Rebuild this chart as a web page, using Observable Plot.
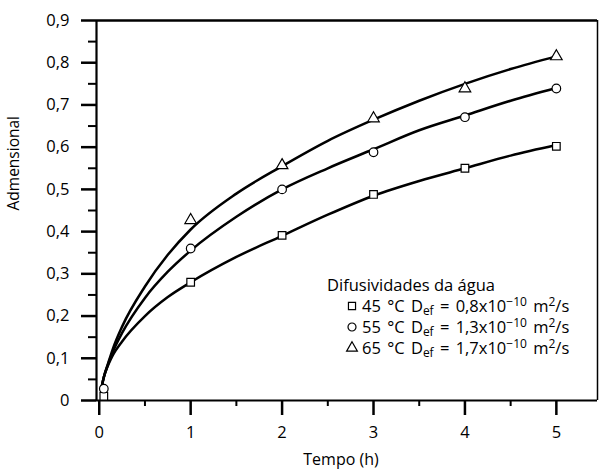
<!DOCTYPE html>
<html>
<head>
<meta charset="utf-8">
<script src="https://cdn.jsdelivr.net/npm/d3@7"></script>
<script src="https://cdn.jsdelivr.net/npm/@observablehq/plot@0.6"></script>
<style>
  html, body { margin: 0; padding: 0; background: #fff; }
  #chart svg { display: block; }
</style>
</head>
<body>
<div id="chart"></div>
<script>
// ---- data ----
const pointTimes = [0.05, 1, 2, 3, 4, 5];
const p45 = [0.01, 0.28, 0.391, 0.488, 0.55, 0.602];
const p55 = [0.028, 0.36, 0.5, 0.588, 0.671, 0.739];
const p65 = [null, 0.427, 0.557, 0.668, 0.739, 0.815];

const curveTimes = [0.02, 0.05, 0.1, 0.15, 0.25, 0.5, 0.75, 1, 1.5, 2, 2.5, 3, 3.5, 4, 4.5, 5];
const c45 = [0.025, 0.055, 0.085, 0.108, 0.14, 0.2, 0.245, 0.28, 0.34, 0.39, 0.44, 0.485, 0.52, 0.55, 0.58, 0.605];
const c55 = [0.025, 0.055, 0.088, 0.116, 0.16, 0.243, 0.305, 0.355, 0.435, 0.5, 0.55, 0.595, 0.64, 0.675, 0.71, 0.74];
const c65 = [0.025, 0.055, 0.09, 0.123, 0.175, 0.27, 0.345, 0.405, 0.49, 0.555, 0.615, 0.665, 0.71, 0.75, 0.785, 0.815];

const seriesNames = ["45", "55", "65"];
const seriesSymbols = ["square", "circle", "triangle"];
const legendTitle = "Difusividades da água";
const legendTemps = ["45 °C D", "55 °C D", "65 °C D"];
const legendCoefs = ["0,8", "1,3", "1,7"];

const xMajor = [0, 1, 2, 3, 4, 5];
const xMinor = [0.5, 1.5, 2.5, 3.5, 4.5];
const yMajor = [0, 0.1, 0.2, 0.3, 0.4, 0.5, 0.6, 0.7, 0.8, 0.9];
const yMinor = [0.05, 0.15, 0.25, 0.35, 0.45, 0.55, 0.65, 0.75, 0.85];

const xLabel = "Tempo (h)";
const yLabel = "Admensional";

// ---- build tables ----
const curves = [];
[c45, c55, c65].forEach((arr, s) => arr.forEach((v, i) => curves.push({t: curveTimes[i], v, s: seriesNames[s]})));
const points = [];
[p45, p55, p65].forEach((arr, s) => arr.forEach((v, i) => { if (v != null) points.push({t: pointTimes[i], v, s: seriesNames[s], sym: seriesSymbols[s]}); }));

const fmtY = d => d === 0 ? "0" : d.toFixed(1).replace(".", ",");
const xDomain = [-0.03, 5.45];
const FONT = "'Open Sans', sans-serif";

const plot = Plot.plot({
  width: 601,
  height: 470,
  marginTop: 20,
  marginBottom: 70,
  marginLeft: 96,
  marginRight: 4,
  style: {fontFamily: FONT, fontSize: "16.5px", color: "#000", background: "#fff"},
  x: {domain: xDomain},
  y: {domain: [0, 0.9]},
  symbol: {domain: seriesSymbols, range: seriesSymbols},
  marks: [
    Plot.axisX(xMajor, {tickSize: 15, tickPadding: 11, strokeWidth: 2.5, tickFormat: d => String(d), label: null, fontSize: 16.5}),
    Plot.axisX(xMinor, {tickSize: 6, strokeWidth: 2, tickFormat: () => "", label: null}),
    Plot.axisY(yMajor, {tickSize: 15, tickPadding: 12, strokeWidth: 2.5, tickFormat: fmtY, label: null, fontSize: 16.5}),
    Plot.axisY(yMinor, {tickSize: 8, strokeWidth: 2, tickFormat: () => "", label: null}),
    Plot.ruleY([0], {strokeWidth: 2.2}),
    Plot.ruleY([0.9], {strokeWidth: 2.5}),
    Plot.ruleX([xDomain[0]], {strokeWidth: 2.2}),
    Plot.ruleX([xDomain[1]], {strokeWidth: 1.5}),
    Plot.line(curves, {x: "t", y: "v", z: "s", stroke: "#000", strokeWidth: 2.5, curve: "monotone-x"}),
    Plot.dot(points, {x: "t", y: "v", symbol: "sym", r: 4.3, stroke: "#000", strokeWidth: 1.2, fill: "#fff"}),
    Plot.text([xLabel], {frameAnchor: "bottom", dx: -6, dy: 64, fontSize: 16, fill: "#000"}),
    Plot.text([yLabel], {frameAnchor: "left", dx: -82, rotate: -90, fontSize: 15.5, fill: "#000"})
  ]
});

document.getElementById("chart").appendChild(plot);

// ---- legend (text with sub/superscripts) ----
const svg = d3.select(plot);
const lg = svg.append("g")
  .attr("font-family", FONT).attr("font-size", 16.5).attr("fill", "#000").attr("text-anchor", "start");
lg.append("text").attr("x", 327).attr("y", 291).text(legendTitle);
const rowY = [312, 333, 354];
const symType = {square: d3.symbolSquare, circle: d3.symbolCircle, triangle: d3.symbolTriangle};
legendTemps.forEach((lab, i) => {
  const y = rowY[i];
  const sym = d3.symbol().type(symType[seriesSymbols[i]]).size(Math.PI * 4 * 4);
  lg.append("path").attr("d", sym()).attr("transform", `translate(352,${y - 6})`)
    .attr("fill", "#fff").attr("stroke", "#000").attr("stroke-width", 1.2);
  const t = lg.append("text").attr("x", 362).attr("y", y).attr("word-spacing", 2);
  t.append("tspan").text(lab);
  t.append("tspan").attr("font-size", 12).attr("dy", 3).text("ef");
  t.append("tspan").attr("dy", -3).text(" = " + legendCoefs[i] + "x10");
  t.append("tspan").attr("font-size", 12).attr("dy", -6).text("−10");
  t.append("tspan").attr("dy", 6).text(" m");
  t.append("tspan").attr("font-size", 12).attr("dy", -6).text("2");
  t.append("tspan").attr("dy", 6).text("/s");
});
</script>
</body>
</html>
